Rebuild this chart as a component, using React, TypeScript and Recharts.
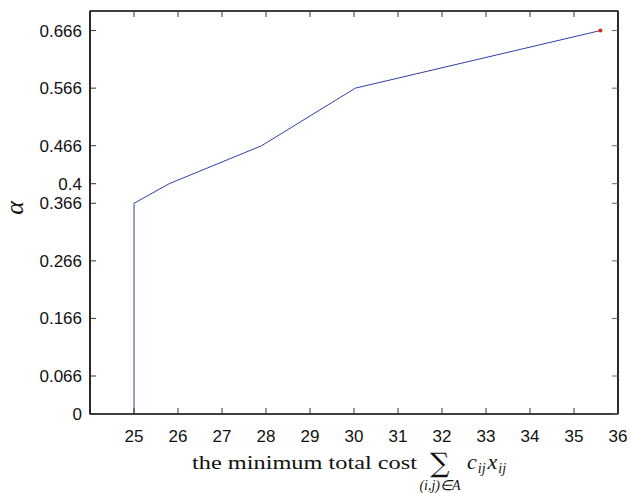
import React from 'react';
import { LineChart, Line, XAxis, YAxis, ReferenceArea } from 'recharts';

const costValues = [25, 25, 25.8, 27.9, 30.03, 35.6];
const alphaValues = [0, 0.366, 0.4, 0.466, 0.566, 0.666];
const xTicks = [25, 26, 27, 28, 29, 30, 31, 32, 33, 34, 35, 36];
const yTicks = [0, 0.066, 0.166, 0.266, 0.366, 0.4, 0.466, 0.566, 0.666];

const data = costValues.map((c, i) => ({ cost: c, alpha: alphaValues[i] }));

const FONT = 'Liberation Sans, Arial, sans-serif';
const TICK_LEN = 6;
const X_MARGIN = 16;
const Y_MARGIN = 8;

const BottomTick = (props: any) => {
  const { x, y, payload } = props;
  const axisY = y - X_MARGIN;
  return (
    <g>
      <line x1={x} x2={x} y1={axisY} y2={axisY - TICK_LEN} stroke="#333" strokeWidth={1} />
      <text x={x} y={y} dy="0.71em" textAnchor="middle" fontFamily={FONT} fontSize={17} fill="#111">
        {payload.value}
      </text>
    </g>
  );
};

const LeftTick = (props: any) => {
  const { x, y, payload } = props;
  const axisX = x + Y_MARGIN;
  return (
    <g>
      <line x1={axisX} x2={axisX + TICK_LEN} y1={y} y2={y} stroke="#333" strokeWidth={1} />
      <text x={x} y={y} dy="0.355em" textAnchor="end" fontFamily={FONT} fontSize={17} fill="#111">
        {payload.value}
      </text>
    </g>
  );
};

const TopTick = (props: any) => {
  const { x, y } = props;
  return <line x1={x} x2={x} y1={y} y2={y + TICK_LEN} stroke="#333" strokeWidth={1} />;
};

const RightTick = (props: any) => {
  const { x, y } = props;
  return <line x1={x} x2={x - TICK_LEN} y1={y} y2={y} stroke="#666" strokeWidth={1} />;
};

const EndDot = (props: any) => {
  const { cx, cy, index } = props;
  if (index !== data.length - 1) return <g key={`d${index}`} />;
  return <circle key={`d${index}`} cx={cx} cy={cy} r={2} fill="#e02020" stroke="none" />;
};

export default function App() {
  return (
    <div style={{ position: 'absolute', left: 0, top: 0, width: 630, height: 493, background: '#fff' }}>
      <LineChart width={630} height={493} data={data} margin={{ top: 10, right: 11, left: 0, bottom: 0 }}>
        <XAxis
          xAxisId="bottom"
          dataKey="cost"
          type="number"
          domain={[24, 36]}
          ticks={xTicks}
          orientation="bottom"
          height={79}
          tickSize={0}
          tickMargin={X_MARGIN}
          axisLine={{ stroke: '#000', strokeWidth: 1.2 }}
          tickLine={false}
          tick={<BottomTick />}
          interval={0}
          allowDataOverflow
        />
        <XAxis
          xAxisId="top"
          dataKey="cost"
          type="number"
          domain={[24, 36]}
          ticks={xTicks}
          orientation="top"
          height={1}
          tickSize={0}
          tickMargin={0}
          axisLine={{ stroke: '#000', strokeWidth: 1.2 }}
          tickLine={false}
          tick={<TopTick />}
          interval={0}
          allowDataOverflow
        />
        <YAxis
          yAxisId="left"
          type="number"
          domain={[0, 0.7]}
          ticks={yTicks}
          orientation="left"
          width={90}
          tickSize={0}
          tickMargin={Y_MARGIN}
          axisLine={{ stroke: '#000', strokeWidth: 1.2 }}
          tickLine={false}
          tick={<LeftTick />}
          interval={0}
          allowDataOverflow
        />
        <YAxis
          yAxisId="right"
          type="number"
          domain={[0, 0.7]}
          ticks={yTicks}
          orientation="right"
          width={1}
          tickSize={0}
          tickMargin={0}
          axisLine={{ stroke: '#000', strokeWidth: 1.2 }}
          tickLine={false}
          tick={<RightTick />}
          interval={0}
          allowDataOverflow
        />
        <ReferenceArea
          xAxisId="bottom"
          yAxisId="left"
          x1={24}
          x2={36}
          y1={0}
          y2={0.7}
          fill="none"
          fillOpacity={0}
          stroke="#000"
          strokeWidth={1.2}
          ifOverflow="visible"
        />
        <Line
          xAxisId="bottom"
          yAxisId="left"
          type="linear"
          dataKey="alpha"
          stroke="#2f40a8"
          strokeWidth={1}
          dot={EndDot}
          activeDot={false}
          isAnimationActive={false}
        />
      </LineChart>
      <svg width={630} height={493} style={{ position: 'absolute', left: 0, top: 0, pointerEvents: 'none' }}>
        <text
          x={0}
          y={0}
          transform="translate(23,208) rotate(-90)"
          textAnchor="middle"
          fontFamily="Liberation Serif, serif"
          fontStyle="italic"
          fontSize={26}
          fill="#111"
        >
          α
        </text>
        <text x={192} y={469} fontFamily="Liberation Serif, serif" fontSize={19} fill="#111" textLength={225} lengthAdjust="spacingAndGlyphs">
          the minimum total cost
        </text>
        <text x={440} y={472} textAnchor="middle" fontFamily="DejaVu Serif, serif" fontSize={27} fill="#111">
          ∑
        </text>
        <text x={440} y={490} textAnchor="middle" fontFamily="Liberation Serif, serif" fontStyle="italic" fontSize={14} fill="#111">
          (i,j)∈A
        </text>
        <text x={467} y={469} fontFamily="Liberation Serif, serif" fontStyle="italic" fontSize={22} fill="#111">
          c
          <tspan fontSize={14} dy={4} dx={1}>ij</tspan>
          <tspan fontSize={22} dy={-4} dx={2}>x</tspan>
          <tspan fontSize={14} dy={4} dx={1}>ij</tspan>
        </text>
      </svg>
    </div>
  );
}
